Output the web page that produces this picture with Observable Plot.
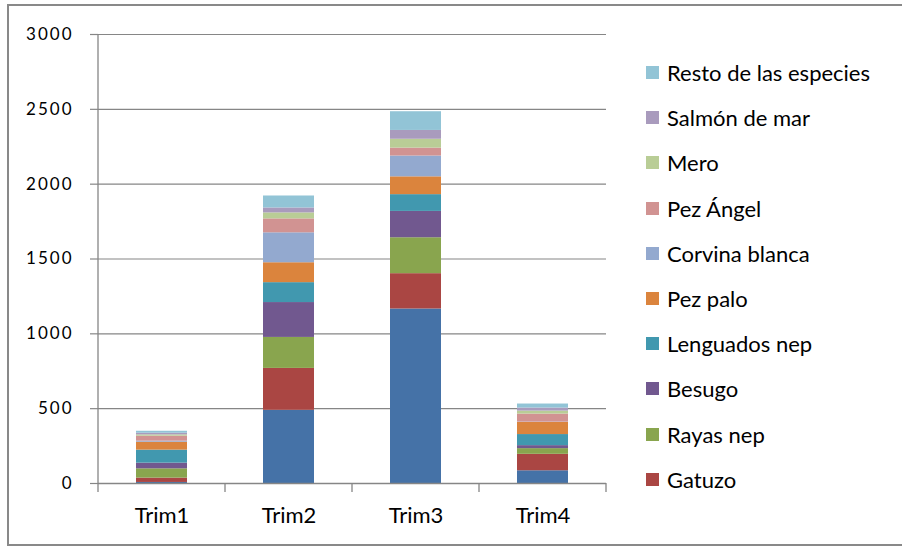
<!DOCTYPE html>
<html><head><meta charset="utf-8">
<script src="https://cdn.jsdelivr.net/npm/d3@7"></script>
<script src="https://cdn.jsdelivr.net/npm/@observablehq/plot@0.6"></script>
<style>
html,body{margin:0;padding:0;background:#fff;}
#wrap{position:relative;width:902px;height:546px;overflow:hidden;font-family:Lato,sans-serif;}
#border{position:absolute;left:7px;top:4px;width:1000px;height:538px;border:2px solid #898989;}
#chart{position:absolute;left:0;top:0;}
#legend{position:absolute;left:646px;top:0;}
.item{position:absolute;left:0;display:flex;align-items:center;height:20px;white-space:nowrap;font-size:22px;color:#000;}
.sw{width:13px;height:13px;margin-right:8px;flex:none;}
</style>
</head><body>
<div id="wrap"><div id="border"></div><div id="chart"></div><div id="legend"></div></div>
<script>
const trims = ["Trim1", "Trim2", "Trim3", "Trim4"];
const yTicks = [0, 500, 1000, 1500, 2000, 2500, 3000];

// bottom to top of each stack
const species = ["Serie1", "Gatuzo", "Rayas nep", "Besugo", "Lenguados nep", "Pez palo",
  "Corvina blanca", "Pez Ángel", "Mero", "Salmón de mar", "Resto de las especies"];
const legendSpecies = ["Resto de las especies", "Salmón de mar", "Mero", "Pez Ángel",
  "Corvina blanca", "Pez palo", "Lenguados nep", "Besugo", "Rayas nep", "Gatuzo"];
const colors = ["#4572A7", "#AA4643", "#89A54E", "#71588F", "#4198AF", "#DB843D",
  "#93A9CF", "#D19392", "#B9CD96", "#A99BBD", "#92C4D6"];

const serie1 = [7, 489, 1166, 85];
const gatuzo = [29, 280, 236, 110];
const rayas = [62, 207, 240, 38];
const besugo = [38, 233, 176, 20];
const lenguados = [87, 133, 112, 74];
const pezPalo = [53, 133, 119, 81];
const corvina = [7, 200, 139, 2];
const pezAngel = [33, 93, 53, 54];
const mero = [9, 40, 59, 20];
const salmon = [11, 33, 59, 20];
const resto = [13, 80, 125, 27];

const series = [serie1, gatuzo, rayas, besugo, lenguados, pezPalo, corvina, pezAngel, mero, salmon, resto];
const rows = [];
species.forEach((s, i) => trims.forEach((t, j) => rows.push({trim: t, species: s, value: series[i][j]})));

function catTicks(index, scales) {
  const x = scales.x, y = scales.y;
  const step = x.step ? x.step() : (x(trims[1]) - x(trims[0]));
  const bw = x.bandwidth ? x.bandwidth() : step * 0.4;
  const gap = (step - bw) / 2;
  const y0 = y(0);
  const g = d3.create("svg:g").attr("stroke", "#868686").attr("stroke-width", 1.3).attr("fill", "none");
  const edges = trims.map(t => x(t) - gap);
  edges.push(edges[edges.length - 1] + step);
  edges.forEach(e => g.append("line").attr("x1", e).attr("x2", e).attr("y1", y0).attr("y2", y0 + 9));
  g.append("line").attr("x1", edges[0]).attr("x2", edges[0]).attr("y1", y(yTicks[yTicks.length - 1])).attr("y2", y0);
  return g.node();
}

const chart = Plot.plot({
  width: 902, height: 546,
  marginLeft: 98, marginRight: 296, marginTop: 34, marginBottom: 63,
  style: {fontFamily: "Lato, sans-serif", fontSize: "17px", color: "#000", background: "transparent", overflow: "visible"},
  x: {domain: trims, paddingInner: 0.6, paddingOuter: 0.3, label: null},
  y: {domain: [0, 3000], label: null},
  color: {domain: species, range: colors},
  marks: [
    Plot.gridY(yTicks, {stroke: "#868686", strokeOpacity: 1, strokeWidth: 1.2}),
    Plot.barY(rows, {x: "trim", y: "value", fill: "species", order: species}),
    Plot.axisY(yTicks, {tickSize: 8, tickPadding: 17, stroke: "#868686", strokeWidth: 1.2, fontSize: 17, tickFormat: d => String(d), label: null}),
    Plot.axisX({tickSize: 0, tickPadding: 24, fontSize: 22, label: null}),
    Plot.ruleY([0], {stroke: "#868686", strokeWidth: 1.6}),
    catTicks
  ]
});
d3.select(chart).selectAll("g[aria-label='y-axis tick label'] text").attr("letter-spacing", "2px");
document.getElementById("chart").appendChild(chart);

const legend = d3.select("#legend");
legendSpecies.forEach((s, i) => {
  const item = legend.append("div").attr("class", "item").style("top", (72.5 + i * 45.2 - 10) + "px");
  item.append("div").attr("class", "sw").style("background", colors[species.indexOf(s)]);
  item.append("span").text(s);
});
</script>
</body></html>
